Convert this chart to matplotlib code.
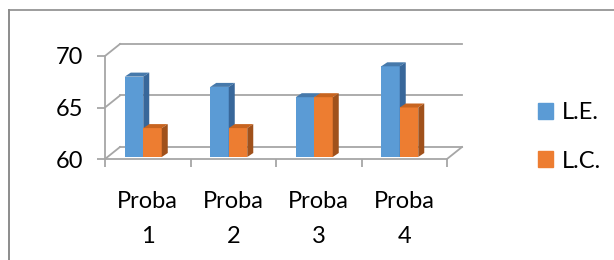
import matplotlib
matplotlib.use("Agg")
import matplotlib.pyplot as plt
from matplotlib.patches import Polygon, Patch
from matplotlib.lines import Line2D
import numpy as np

# data
categories = ["Proba\n1", "Proba\n2", "Proba\n3", "Proba\n4"]
series_names = ["L.E.", "L.C."]
le_values = [68, 67, 66, 69]
lc_values = [63, 63, 66, 65]
y_ticks = [60, 65, 70]

plt.rcParams["font.family"] = ["Lato", "DejaVu Sans"]

BLUE = ("#5b9bd5", "#4679ab", "#38679a")    # front, top, side
ORANGE = ("#ed7d31", "#c8641f", "#a0511b")
GRID = "#a6a6a6"
FS = 17

W, H, DPI = 614, 260, 100
fig = plt.figure(figsize=(W / DPI, H / DPI), dpi=DPI)

# front plane of the pseudo-3d chart, in pixels
ax_l, ax_r, ax_b, ax_t = 105, 447, 159, 56
ax = fig.add_axes([ax_l / W, (H - ax_b) / H, (ax_r - ax_l) / W, (ax_b - ax_t) / H])
ax.set_xlim(-0.5, len(categories) - 0.5)
ax.set_ylim(60, 70)

px_x = (ax_r - ax_l) / len(categories)   # pixels per category
px_y = (ax_b - ax_t) / 10                # pixels per value unit

wall_dx, wall_dy = 15 / px_x, 12 / px_y
bar_dx, bar_dy = 6 / px_x, 4 / px_y
bar_w = 18.5 / px_x
shift = 4.5 / px_x
base = 60 + 2 / px_y

x = np.arange(len(categories))
x0, x1 = -0.5, len(categories) - 0.5

# back wall gridlines and the left / floor diagonals
for yv in y_ticks:
    ax.add_line(Line2D([x0 + wall_dx, x1 + wall_dx], [yv + wall_dy] * 2,
                       color=GRID, lw=1.3, clip_on=False, zorder=1))
    ax.add_line(Line2D([x0, x0 + wall_dx], [yv, yv + wall_dy],
                       color=GRID, lw=1.3, clip_on=False, zorder=1))
ax.add_line(Line2D([x1, x1 + wall_dx], [60, 60 + wall_dy],
                   color=GRID, lw=1.3, clip_on=False, zorder=1))


def draw_bars(lefts, values, colors, z):
    front, top, side = colors
    ax.bar(lefts, np.array(values) - base, width=bar_w, bottom=base,
           align="edge", color=front, zorder=z, linewidth=0)
    for left, v in zip(lefts, values):
        r = left + bar_w
        ax.add_patch(Polygon([(left, v), (r, v), (r + bar_dx, v + bar_dy),
                              (left + bar_dx, v + bar_dy)],
                             closed=True, color=top, lw=0, zorder=z, clip_on=False))
        ax.add_patch(Polygon([(r, base), (r, v), (r + bar_dx, v + bar_dy),
                              (r + bar_dx, base + bar_dy)],
                             closed=True, color=side, lw=0, zorder=z, clip_on=False))


draw_bars(x - shift - bar_w, le_values, BLUE, 3)
draw_bars(x - shift, lc_values, ORANGE, 4)

# axes styling
for s in ["top", "right"]:
    ax.spines[s].set_visible(False)
for s in ["left", "bottom"]:
    ax.spines[s].set_color(GRID)
    ax.spines[s].set_linewidth(1.3)
ax.set_yticks(y_ticks)
ax.tick_params(axis="y", direction="out", length=6, width=1.3, color=GRID,
               labelsize=FS, pad=10)
ax.set_xticks(np.arange(len(categories) + 1) - 0.5)
ax.set_xticklabels([])
ax.tick_params(axis="x", which="major", direction="out", length=6, width=1.3, color=GRID)
ax.set_xticks(x, minor=True)
ax.set_xticklabels(categories, minor=True, fontsize=FS, linespacing=1.85)
ax.tick_params(axis="x", which="minor", length=0, pad=23)
ax.set_facecolor("none")

# legend
handles = [Patch(color=BLUE[0]), Patch(color=ORANGE[0])]
fig.legend(handles, series_names, loc="center left",
           bbox_to_anchor=(538 / W, (H - 137) / H), frameon=False, fontsize=FS,
           borderpad=0, borderaxespad=0,
           handlelength=0.65, handleheight=0.65, handletextpad=0.35, labelspacing=1.15)

# chart frame (left and top border visible in the crop)
fig.add_artist(Line2D([8.5 / W, 8.5 / W], [0, (H - 9.5) / H], color="#8c8c8c", lw=1.4))
fig.add_artist(Line2D([8.5 / W, 1], [(H - 9.5) / H] * 2, color="#8c8c8c", lw=1.2))

fig.savefig("out.png", dpi=DPI)
